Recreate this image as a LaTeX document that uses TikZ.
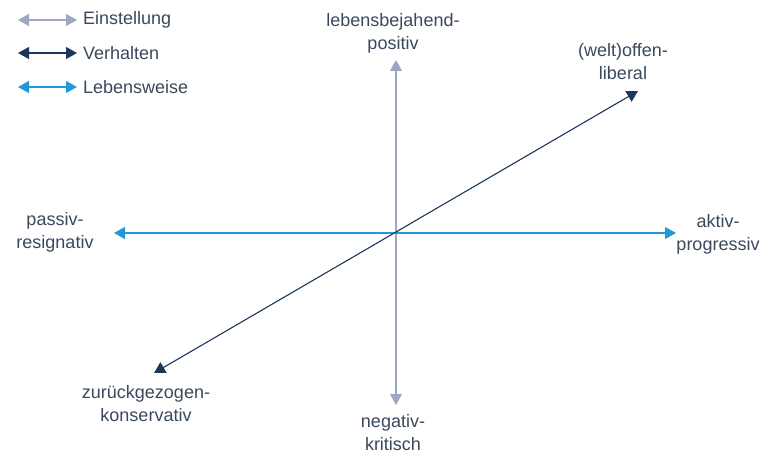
\documentclass[tikz,border=0pt]{standalone}
\usepackage{fontspec}
\setmainfont{Liberation Sans}
\usetikzlibrary{arrows.meta}
\definecolor{einst}{RGB}{158,166,192}
\definecolor{verh}{RGB}{27,55,90}
\definecolor{lebw}{RGB}{30,155,215}
\definecolor{txt}{RGB}{58,72,92}
\begin{document}
\begin{tikzpicture}[x=1pt,y=-1pt,
  lbl/.style={text=txt,font=\fontsize{18}{23}\selectfont,align=center,inner sep=0pt},
  leg/.style={text=txt,font=\fontsize{18}{23}\selectfont,anchor=west,inner sep=0pt},
  axis/.style={line width=1.1pt,{Triangle[length=11pt,width=12pt]}-{Triangle[length=11pt,width=12pt]}},
  legarrow/.style={line width=1.1pt,{Triangle[length=11pt,width=12pt]}-{Triangle[length=11pt,width=12pt]}}]
\useasboundingbox (0,0) rectangle (773,457);
% legend
\coordinate (l1a) at (18,20);  \coordinate (l1b) at (77,20);
\coordinate (l2a) at (18,53);  \coordinate (l2b) at (77,53);
\coordinate (l3a) at (18,87);  \coordinate (l3b) at (77,87);
\draw[legarrow,einst] (l1a) -- (l1b);
\draw[legarrow,verh] (l2a) -- (l2b);
\draw[legarrow,lebw] (l3a) -- (l3b);
\node[leg] (t1) at (83,20) {Einstellung};
\node[leg] (t2) at (83,53) {Verhalten};
\node[leg] (t3) at (83,87) {Lebensweise};
% axis end points
\coordinate (top) at (396,60);
\coordinate (bot) at (396,405);
\coordinate (lft) at (114,233);
\coordinate (rgt) at (676,233);
\coordinate (dl) at (154,373);
\coordinate (ur) at (638,91);
% axes
\draw[axis,einst] (bot) -- (top);
\draw[axis,lebw] (lft) -- (rgt);
\draw[axis,verh] (dl) -- (ur);
% axis labels
\node[lbl] (pos) at (393,33) {lebensbejahend-\\positiv};
\node[lbl] (neg) at (393,433) {negativ-\\kritisch};
\node[lbl] (pas) at (55,232) {passiv-\\resignativ};
\node[lbl] (akt) at (718,234) {aktiv-\\progressiv};
\node[lbl] (lib) at (623,62) {(welt)offen-\\liberal};
\node[lbl] (kon) at (146,404) {zurückgezogen-\\konservativ};
\end{tikzpicture}
\end{document}
